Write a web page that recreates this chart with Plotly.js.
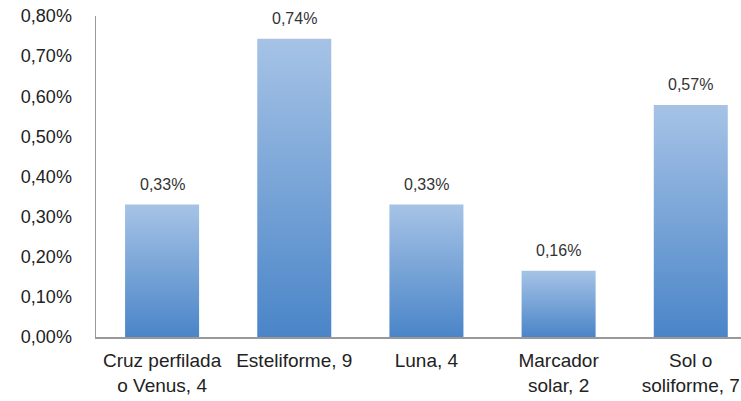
<!DOCTYPE html>
<html>
<head>
<meta charset="utf-8">
<script src="https://cdn.plot.ly/plotly-3.0.1.min.js"></script>
<style>html,body{margin:0;padding:0;background:#fff;}#chart{width:741px;height:401px;}</style>
</head>
<body>
<div id="chart"></div>
<script>
const categories = ["Cruz perfilada<br>o Venus, 4", "Esteliforme, 9", "Luna, 4", "Marcador<br>solar, 2", "Sol o<br>soliforme, 7"];
const values = [0.33, 0.743, 0.33, 0.165, 0.578];
const valueLabels = ["0,33%", "0,74%", "0,33%", "0,16%", "0,57%"];
const yTickVals = [0, 0.1, 0.2, 0.3, 0.4, 0.5, 0.6, 0.7, 0.8];
const yTickText = ["0,00%", "0,10%", "0,20%", "0,30%", "0,40%", "0,50%", "0,60%", "0,70%", "0,80%"];

const trace = {
  type: 'bar',
  x: categories,
  y: values,
  marker: {color: '#76A2D7', line: {width: 0}},
  hoverinfo: 'none'
};

const annotations = categories.map((c, i) => ({
  x: c, y: values[i], text: valueLabels[i],
  showarrow: false, yanchor: 'bottom', yshift: 10,
  font: {family: 'Liberation Sans, Arial, sans-serif', size: 16, color: '#333'}
}));

const layout = {
  width: 741, height: 401,
  margin: {l: 96, r: 0, t: 16, b: 64},
  paper_bgcolor: '#fff', plot_bgcolor: '#fff',
  bargap: 0.44,
  showlegend: false,
  font: {family: 'Liberation Sans, Arial, sans-serif', color: '#333'},
  xaxis: {
    range: [-0.5, 4.38],
    showline: true, linecolor: '#999', linewidth: 1.5,
    ticks: '', showgrid: false, zeroline: false,
    tickfont: {size: 19, color: '#222'},
    ticklabelstandoff: 6
  },
  yaxis: {
    range: [0, 0.8],
    tickmode: 'array',
    tickvals: yTickVals,
    ticktext: yTickText,
    showline: true, linecolor: '#999', linewidth: 1.5,
    ticks: '', showgrid: false, zeroline: false,
    tickfont: {size: 18, color: '#222'},
    ticklabelstandoff: 19
  },
  annotations: annotations
};

Plotly.newPlot('chart', [trace], layout, {staticPlot: true}).then(function(gd){
  const svg = gd.querySelector('svg.main-svg');
  const ns = 'http://www.w3.org/2000/svg';
  let defs = svg.querySelector('defs');
  if (!defs) { defs = document.createElementNS(ns, 'defs'); svg.insertBefore(defs, svg.firstChild); }
  const lg = document.createElementNS(ns, 'linearGradient');
  lg.setAttribute('id', 'barGrad');
  lg.setAttribute('x1', '0'); lg.setAttribute('y1', '0');
  lg.setAttribute('x2', '0'); lg.setAttribute('y2', '1');
  [['0', '#A6C3E6'], ['1', '#4A85C8']].forEach(function(s){
    const st = document.createElementNS(ns, 'stop');
    st.setAttribute('offset', s[0]); st.setAttribute('stop-color', s[1]);
    lg.appendChild(st);
  });
  defs.appendChild(lg);
  gd.querySelectorAll('.bars .point path').forEach(function(p){
    p.style.fill = 'url(#barGrad)';
  });
});
</script>
</body>
</html>
